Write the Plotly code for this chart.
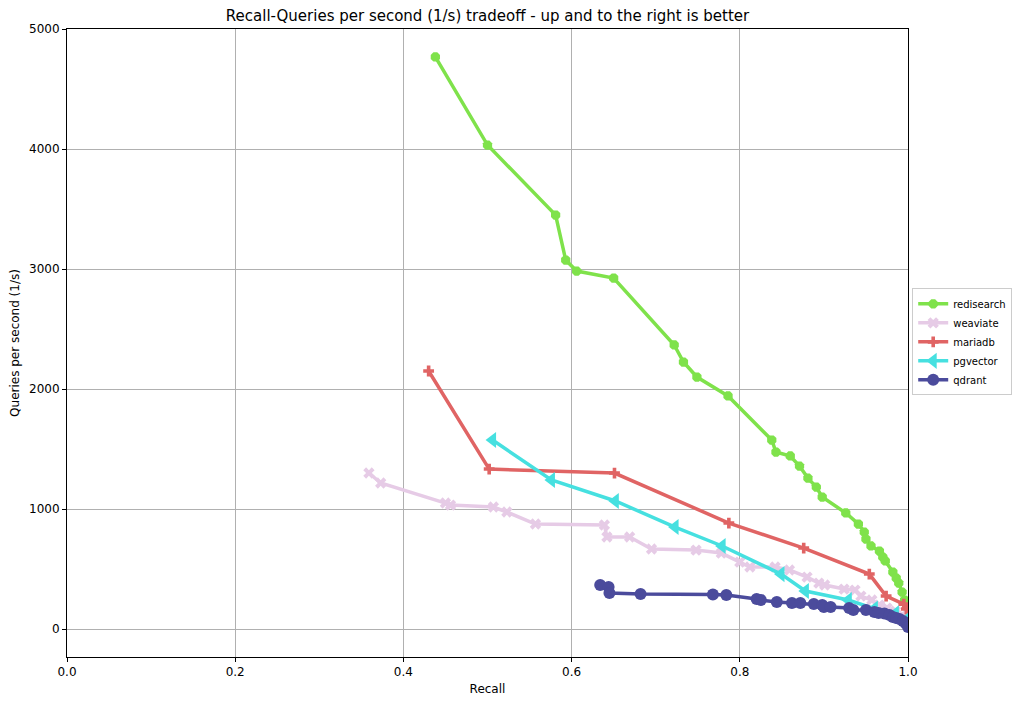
import plotly.graph_objects as go

redisearch_recall = [0.438, 0.500, 0.581, 0.593, 0.606, 0.650, 0.722, 0.733, 0.749, 0.786, 0.838, 0.843, 0.860,
                     0.871, 0.881, 0.891, 0.898, 0.926, 0.941, 0.948, 0.950, 0.956, 0.966, 0.970, 0.973, 0.982,
                     0.986, 0.989, 0.993, 0.996, 0.999]
redisearch_qps = [4767, 4033, 3450, 3075, 2983, 2925, 2367, 2225, 2100, 1942, 1575, 1475, 1442,
                  1358, 1258, 1183, 1100, 967, 875, 808, 750, 692, 650, 600, 567, 475,
                  425, 383, 308, 242, 192]

weaviate_recall = [0.359, 0.373, 0.450, 0.456, 0.507, 0.523, 0.557, 0.639, 0.642, 0.669, 0.695, 0.748, 0.778,
                   0.800, 0.812, 0.842, 0.859, 0.880, 0.894, 0.901, 0.924, 0.937, 0.944, 0.957, 0.966, 0.975,
                   0.985, 0.993, 0.998]
weaviate_qps = [1300, 1217, 1050, 1033, 1017, 975, 875, 867, 767, 767, 667, 658, 633,
                558, 517, 517, 492, 433, 383, 367, 333, 325, 275, 242, 200, 175,
                150, 117, 92]

mariadb_recall = [0.430, 0.502, 0.651, 0.787, 0.876, 0.954, 0.974, 0.995, 0.998]
mariadb_qps = [2150, 1333, 1300, 883, 675, 458, 275, 208, 167]

pgvector_recall = [0.506, 0.576, 0.652, 0.723, 0.779, 0.849, 0.878, 0.929, 0.960, 0.985, 0.998]
pgvector_qps = [1575, 1242, 1067, 850, 692, 458, 317, 242, 170, 130, 80]

qdrant_recall = [0.634, 0.644, 0.645, 0.682, 0.768, 0.784, 0.820, 0.825, 0.844, 0.862, 0.872, 0.888, 0.898,
                 0.900, 0.908, 0.930, 0.935, 0.950, 0.960, 0.965, 0.972, 0.978, 0.982, 0.986, 0.990, 0.994,
                 0.997, 1.000]
qdrant_qps = [367, 350, 300, 292, 288, 283, 250, 242, 225, 217, 217, 208, 200,
              183, 183, 175, 158, 158, 142, 133, 130, 117, 100, 92, 83, 67,
              50, 17]

series = [
    ("redisearch", redisearch_recall, redisearch_qps, "#7fe24b", "octagon", 10),
    ("weaviate", weaviate_recall, weaviate_qps, "#e6cbe6", "x", 10),
    ("mariadb", mariadb_recall, mariadb_qps, "#e06464", "cross", 9),
    ("pgvector", pgvector_recall, pgvector_qps, "#46e0e0", "triangle-left", 14),
    ("qdrant", qdrant_recall, qdrant_qps, "#4b4b9c", "circle", 12),
]

fig = go.Figure()
for name, xs, ys, color, sym, size in series:
    fig.add_trace(go.Scatter(
        x=xs, y=ys, name=name, mode="lines+markers",
        line=dict(color=color, width=3.5),
        marker=dict(symbol=sym, size=size, color=color, line=dict(width=0)),
    ))

axis_common = dict(
    showline=True, linecolor="black", linewidth=1, mirror=True,
    showgrid=True, gridcolor="#b0b0b0", gridwidth=1,
    ticks="outside", ticklen=4, tickcolor="black",
    zeroline=False, tickfont=dict(size=12, color="black"),
    automargin=False,
)

fig.update_layout(
    width=1024, height=704,
    paper_bgcolor="white", plot_bgcolor="white",
    font=dict(family="DejaVu Sans", color="black"),
    title=dict(text="Recall-Queries per second (1/s) tradeoff - up and to the right is better",
               x=0.5, xref="paper", xanchor="center", y=1 - 16 / 704, yanchor="middle",
               font=dict(size=15)),
    margin=dict(l=67, r=109, t=29, b=47),
    xaxis=dict(range=[0, 1], tickvals=[0, 0.2, 0.4, 0.6, 0.8, 1.0],
               ticktext=["0.0", "0.2", "0.4", "0.6", "0.8", "1.0"],
               title=dict(text="Recall", font=dict(size=12), standoff=6), **axis_common),
    yaxis=dict(range=[-233, 5000], tickvals=[0, 1000, 2000, 3000, 4000, 5000],
               title=dict(text="Queries per second (1/s)", font=dict(size=12), standoff=6), **axis_common),
    legend=dict(x=1.005, xanchor="left", y=0.587, yanchor="top",
                bgcolor="white", bordercolor="#cccccc", borderwidth=1,
                font=dict(size=10), tracegroupgap=0, itemwidth=30),
    showlegend=True,
)

fig.write_html("out.html", config={"displayModeBar": False},
               post_script="document.body.style.margin='0';document.body.style.overflow='hidden';")
